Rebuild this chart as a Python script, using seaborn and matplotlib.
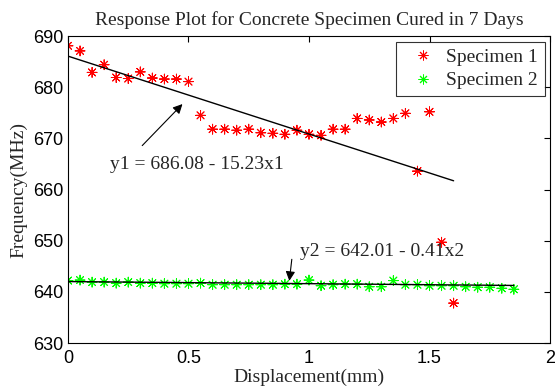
import numpy as np
import pandas as pd
import matplotlib
matplotlib.use("Agg")
import matplotlib.pyplot as plt
import seaborn as sns

# displacement steps (mm)
x1 = np.round(np.arange(0, 1.601, 0.05), 2)
x2 = np.round(np.arange(0, 1.851, 0.05), 2)

# frequency readings (MHz)
freq1 = [688.1, 687.1, 682.9, 684.4, 681.9, 681.7, 683.0, 681.8, 681.6, 681.6,
         681.1, 674.5, 671.8, 671.8, 671.6, 671.8, 671.1, 671.0, 670.8, 671.6,
         670.8, 670.6, 671.8, 671.8, 673.9, 673.6, 673.2, 673.9, 674.9, 663.6,
         675.2, 649.7, 637.8]
freq2 = [642.2, 642.3, 641.9, 641.9, 641.7, 641.9, 641.7, 641.7, 641.6, 641.6,
         641.6, 641.7, 641.4, 641.4, 641.4, 641.4, 641.4, 641.4, 641.5, 641.5,
         642.3, 641.2, 641.4, 641.5, 641.5, 641.0, 641.0, 642.2, 641.4, 641.4,
         641.2, 641.2, 641.2, 641.0, 640.9, 640.9, 640.7, 640.5]

# linear fit coefficients as printed on the chart
fit1 = (686.08, -15.23)
fit2 = (642.01, -0.41)

df = pd.concat([
    pd.DataFrame({"disp": x1, "freq": freq1, "specimen": "Specimen 1"}),
    pd.DataFrame({"disp": x2, "freq": freq2, "specimen": "Specimen 2"}),
])

sns.set_style("white")
serif = ["Liberation Serif", "DejaVu Serif"]
sans = ["Liberation Sans", "DejaVu Sans"]
plt.rcParams["font.family"] = sans

fig = plt.figure(figsize=(5.55, 3.9), dpi=100)
ax = fig.add_axes([0.1225, 0.1205, 0.8685, 0.787])

sns.scatterplot(data=df, x="disp", y="freq", hue="specimen",
                palette={"Specimen 1": "#ff0000", "Specimen 2": "#00ff00"},
                marker=(8, 2, 0), s=50, linewidth=0.7, ax=ax)

sns.lineplot(x=x1, y=fit1[0] + fit1[1] * x1, color="black", lw=1, ax=ax, legend=False)
sns.lineplot(x=x2, y=fit2[0] + fit2[1] * x2, color="black", lw=1, ax=ax, legend=False)

arrow = dict(arrowstyle="-|>", color="black", lw=0.8, mutation_scale=14)
ax.annotate("", xy=(0.483, 677.1), xytext=(0.30, 668.2), arrowprops=arrow)
ax.text(0.174, 664.9, "y1 = 686.08 - 15.23x1", family=serif, fontsize=14,
        ha="left", va="center")
ax.annotate("", xy=(0.917, 641.6), xytext=(0.93, 646.9), arrowprops=arrow)
ax.text(0.963, 647.8, "y2 = 642.01 - 0.41x2", family=serif, fontsize=14,
        ha="left", va="center")

ax.set_xlim(0, 2)
ax.set_ylim(630, 690)
ax.set_xticks([0, 0.5, 1, 1.5, 2])
ax.set_xticklabels(["0", "0.5", "1", "1.5", "2"])
ax.set_yticks(np.arange(630, 691, 10))
ax.tick_params(direction="in", length=4, width=0.8, top=True, right=True,
               labelsize=13, colors="black")
ax.tick_params(axis="x", pad=5)
ax.tick_params(axis="y", pad=3.5)
for sp in ax.spines.values():
    sp.set_color("black")
    sp.set_linewidth(0.8)

ax.set_title("Response Plot for Concrete Specimen Cured in 7 Days",
             family=serif, fontsize=14, pad=8)
ax.set_xlabel("Displacement(mm)", family=serif, fontsize=14, labelpad=1)
ax.set_ylabel("Frequency(MHz)", family=serif, fontsize=14, labelpad=4)

leg = ax.legend(loc="upper right", prop={"family": serif, "size": 14},
                frameon=True, fancybox=False, borderaxespad=0.28,
                handlelength=2.0, handletextpad=0.2, borderpad=0.35,
                labelspacing=0.3)
leg.get_frame().set_edgecolor("black")
leg.get_frame().set_linewidth(0.8)

fig.savefig("out.png", dpi=100)
